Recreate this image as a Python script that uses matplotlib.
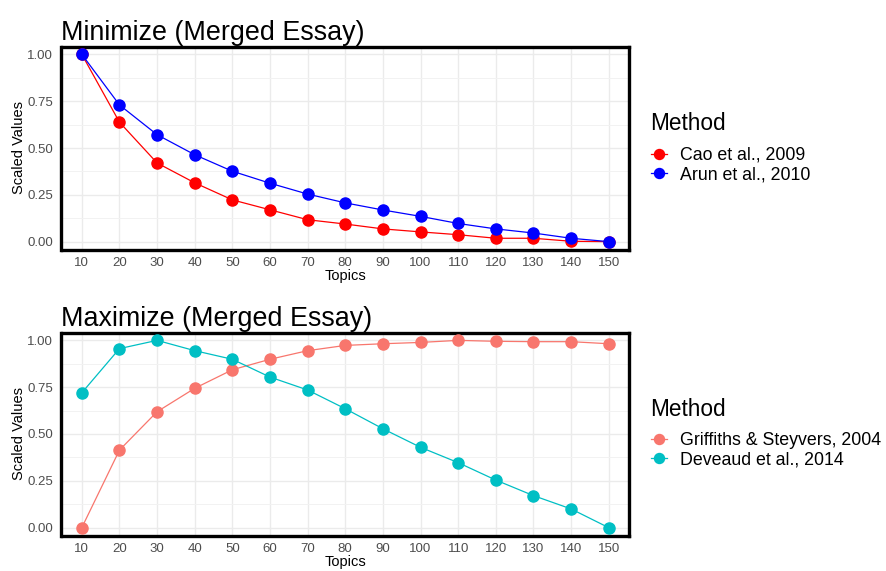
import matplotlib
matplotlib.use("Agg")
import matplotlib.pyplot as plt
from matplotlib.ticker import MultipleLocator

plt.rcParams['font.family'] = ['Liberation Sans', 'DejaVu Sans']

topics = [10, 20, 30, 40, 50, 60, 70, 80, 90, 100, 110, 120, 130, 140, 150]

cao = [1.0, 0.638, 0.42, 0.314, 0.223, 0.170, 0.117, 0.094, 0.068, 0.052, 0.037, 0.018, 0.018, 0.002, 0.0]
arun = [1.0, 0.730, 0.571, 0.464, 0.376, 0.312, 0.254, 0.207, 0.169, 0.135, 0.097, 0.068, 0.046, 0.018, 0.0]

griffiths = [0.0, 0.414, 0.619, 0.744, 0.843, 0.899, 0.945, 0.973, 0.982, 0.989, 1.0, 0.995, 0.993, 0.993, 0.982]
deveaud = [0.720, 0.956, 1.0, 0.945, 0.899, 0.804, 0.735, 0.635, 0.528, 0.429, 0.347, 0.254, 0.171, 0.100, 0.0]

panels = [
    ("Minimize (Merged Essay)", [("Cao et al., 2009", cao, "#FF0000"), ("Arun et al., 2010", arun, "#0000FF")]),
    ("Maximize (Merged Essay)", [("Griffiths & Steyvers, 2004", griffiths, "#F8766D"), ("Deveaud et al., 2014", deveaud, "#00BFC4")]),
]

W, H = 886, 571
fig = plt.figure(figsize=(W / 100, H / 100), dpi=100)

boxes = [(61.5, 46.5, 629, 249.5), (61.5, 332.5, 629, 535.5)]
legend_title_y = [124, 410]
legend_mid_y = [165, 450.5]

for (title, series), (l, t, r, b), ty, my in zip(panels, boxes, legend_title_y, legend_mid_y):
    ax = fig.add_axes([l / W, 1 - b / H, (r - l) / W, (b - t) / H])
    for name, vals, col in series:
        ax.plot(topics, vals, color=col, lw=0.9, marker='o', ms=8, label=name, zorder=3)
    ax.set_xlim(4.6, 155.4)
    ax.set_ylim(-0.042, 1.042)
    ax.set_xticks(topics)
    ax.set_yticks([0, 0.25, 0.5, 0.75, 1.0])
    ax.set_yticklabels(["0.00", "0.25", "0.50", "0.75", "1.00"])
    ax.yaxis.set_minor_locator(MultipleLocator(0.125))
    ax.grid(which='major', color='#EBEBEB', lw=1.0, zorder=0)
    ax.grid(which='minor', axis='y', color='#F2F2F2', lw=0.7, zorder=0)
    ax.set_axisbelow(True)
    ax.tick_params(axis='x', which='both', length=0, labelsize=9.5, labelcolor='#4D4D4D', pad=5.5)
    ax.tick_params(axis='y', which='both', length=0, labelsize=9.5, labelcolor='#4D4D4D', pad=6)
    for s in ax.spines.values():
        s.set_linewidth(2.4)
        s.set_color('black')
    ax.set_xlabel("Topics", fontsize=10.5, labelpad=0)
    ax.set_ylabel("Scaled Values", fontsize=10.5, labelpad=1)
    ax.set_title(title, loc='left', fontsize=19.4, pad=5)
    fig.text(650 / W, 1 - ty / H, "Method", fontsize=16.3, ha='left', va='center')
    leg = ax.legend(loc='center left', bbox_to_anchor=(651 / W, 1 - my / H),
                    bbox_transform=fig.transFigure, frameon=False, fontsize=12.8,
                    handlelength=0.9, handletextpad=0.75, labelspacing=0.12,
                    borderaxespad=0, borderpad=0, markerscale=0.9)

fig.savefig("out.png", dpi=100)
